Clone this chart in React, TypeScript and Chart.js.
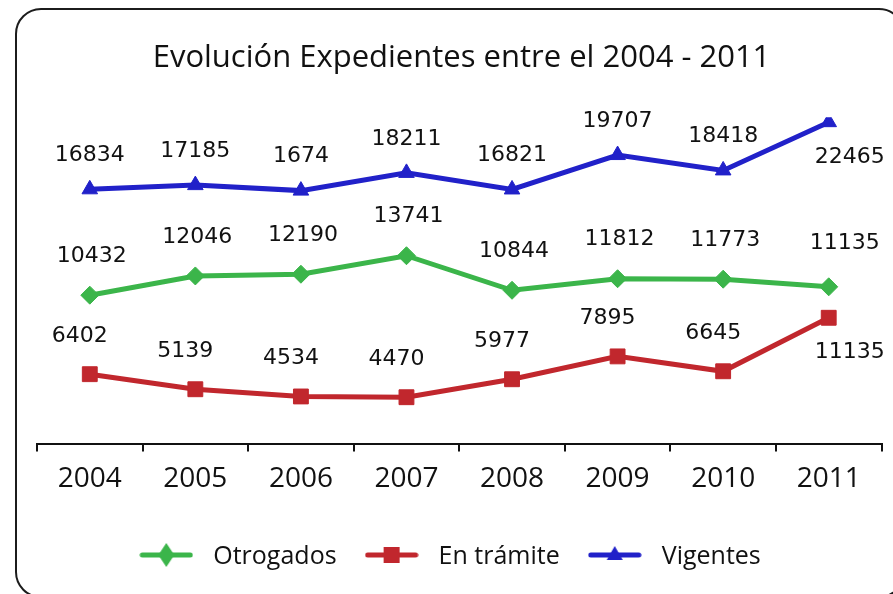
import React, { useEffect, useRef } from "react";
import { Chart, registerables } from "chart.js";

Chart.register(...registerables);

const YEARS = ["2004", "2005", "2006", "2007", "2008", "2009", "2010", "2011"];
const OTORGADOS = [10432, 12046, 12190, 13741, 10844, 11812, 11773, 11135];
const EN_TRAMITE = [6402, 5139, 4534, 4470, 5977, 7895, 6645, 11135];
const VIGENTES = [16834, 17185, 16724, 18211, 16821, 19707, 18418, 22465];
const OTORGADOS_LABELS = ["10432", "12046", "12190", "13741", "10844", "11812", "11773", "11135"];
const EN_TRAMITE_LABELS = ["6402", "5139", "4534", "4470", "5977", "7895", "6645", "11135"];
const VIGENTES_LABELS = ["16834", "17185", "1674", "18211", "16821", "19707", "18418", "22465"];
const SERIES_NAMES = ["Otrogados", "En trámite", "Vigentes"];

const GREEN = "#3BB54A";
const RED = "#C1272D";
const BLUE = "#2121C9";

function legendIcon(color: string, style: string): HTMLCanvasElement {
  const c = document.createElement("canvas");
  c.width = 54;
  c.height = 26;
  const ctx = c.getContext("2d")!;
  ctx.strokeStyle = color;
  ctx.fillStyle = color;
  ctx.lineWidth = 5;
  ctx.lineCap = "round";
  ctx.beginPath();
  ctx.moveTo(3, 13);
  ctx.lineTo(51, 13);
  ctx.stroke();
  ctx.beginPath();
  if (style === "diamond") {
    ctx.moveTo(27, 1);
    ctx.lineTo(35, 13);
    ctx.lineTo(27, 25);
    ctx.lineTo(19, 13);
  } else if (style === "square") {
    ctx.rect(19, 5, 16, 16);
  } else {
    ctx.moveTo(27, 4);
    ctx.lineTo(35, 18);
    ctx.lineTo(19, 18);
  }
  ctx.closePath();
  ctx.fill();
  return c;
}

export default function App() {
  const ref = useRef<HTMLCanvasElement | null>(null);
  useEffect(() => {
    if (!ref.current) return;
    const labelsBySeries = [OTORGADOS_LABELS, EN_TRAMITE_LABELS, VIGENTES_LABELS];
    const offsets = [
      { dx: 2, dy: -39 },
      { dx: -10, dy: -38 },
      { dx: 0, dy: -34 },
    ];
    const icons = [
      legendIcon(GREEN, "diamond"),
      legendIcon(RED, "square"),
      legendIcon(BLUE, "triangle"),
    ];
    const dataLabels = {
      id: "dataLabels",
      afterDatasetsDraw(chart: any) {
        const ctx = chart.ctx;
        ctx.save();
        ctx.font = '22px "DejaVu Sans"';
        ctx.fillStyle = "#111";
        ctx.textAlign = "center";
        ctx.textBaseline = "middle";
        chart.data.datasets.forEach((ds: any, i: number) => {
          const meta = chart.getDatasetMeta(i);
          meta.data.forEach((pt: any, j: number) => {
            let { dx, dy } = offsets[i];
            const last = j === meta.data.length - 1;
            if (last && i !== 0) {
              dx = 21;
              dy = 35;
            } else if (last) {
              dx = 16;
              dy = -44;
            }
            ctx.fillText(labelsBySeries[i][j], pt.x + dx, pt.y + dy);
          });
        });
        ctx.restore();
      },
    };
    const customLegend = {
      id: "customLegend",
      afterDraw(chart: any) {
        const ctx = chart.ctx;
        ctx.save();
        ctx.font = '25px "Open Sans"';
        ctx.fillStyle = "#111";
        ctx.textAlign = "left";
        ctx.textBaseline = "alphabetic";
        const iconW = 54;
        const gapIconText = 20;
        const gapItems = 28;
        const widths = SERIES_NAMES.map((n) => ctx.measureText(n).width);
        const total = widths.reduce((a, b) => a + b, 0) + 3 * (iconW + gapIconText) + 2 * gapItems;
        let x = 450 - total / 2;
        const cy = 555;
        SERIES_NAMES.forEach((name, i) => {
          ctx.drawImage(icons[i], x, cy - 13);
          x += iconW + gapIconText;
          ctx.fillText(name, x, cy + 9);
          x += widths[i] + gapItems;
        });
        ctx.restore();
      },
    };
    const chart = new Chart(ref.current, {
      type: "line",
      data: {
        labels: YEARS,
        datasets: [
          {
            label: SERIES_NAMES[0],
            data: OTORGADOS,
            yAxisID: "y2",
            borderColor: GREEN,
            backgroundColor: GREEN,
            borderWidth: 5,
            pointStyle: "rectRot",
            pointRadius: 9,
            pointBorderWidth: 1,
          },
          {
            label: SERIES_NAMES[1],
            data: EN_TRAMITE,
            yAxisID: "y3",
            borderColor: RED,
            backgroundColor: RED,
            borderWidth: 5,
            pointStyle: "rect",
            pointRadius: 10.5,
            pointBorderWidth: 1,
          },
          {
            label: SERIES_NAMES[2],
            data: VIGENTES,
            yAxisID: "y1",
            borderColor: BLUE,
            backgroundColor: BLUE,
            borderWidth: 5,
            pointStyle: "triangle",
            pointRadius: 9,
            pointBorderWidth: 1,
          },
        ],
      },
      options: {
        animation: false,
        responsive: true,
        maintainAspectRatio: false,
        layout: { padding: { left: 37, right: 7, top: 0, bottom: 86.8 } },
        plugins: {
          title: {
            display: true,
            text: "Evolución Expedientes entre el 2004 - 2011",
            color: "#111",
            font: { family: "Open Sans", size: 31, weight: "normal" },
            padding: { top: 40, bottom: 40 },
          },
          legend: { display: false },
          tooltip: { enabled: false },
        },
        scales: {
          x: {
            type: "category",
            offset: true,
            grid: { display: true, drawOnChartArea: false, drawTicks: true, tickLength: 8, color: "#111", lineWidth: 2, offset: true },
            border: { display: true, color: "#111", width: 2 },
            ticks: { color: "#111", font: { family: "Open Sans", size: 28 }, padding: 11, maxRotation: 0 },
          },
          y1: { type: "linear", display: false, min: -4496, max: 22882 },
          y2: { type: "linear", display: false, min: -2017, max: 25361 },
          y3: { type: "linear", display: false, min: 580, max: 27958 },
        },
      },
      plugins: [dataLabels, customLegend],
    });
    return () => chart.destroy();
  }, []);
  return (
    <div style={{ position: "fixed", left: 0, top: 0, width: 893, height: 594, overflow: "hidden", background: "#fff" }}>
      <div
        style={{
          position: "absolute",
          left: 15,
          top: 8,
          width: 890,
          height: 590,
          border: "2.5px solid #1c1c1c",
          borderRadius: 26,
          boxSizing: "border-box",
        }}
      />
      <canvas ref={ref} style={{ position: "absolute", left: 0, top: 0, width: 893, height: 594 }} />
    </div>
  );
}
